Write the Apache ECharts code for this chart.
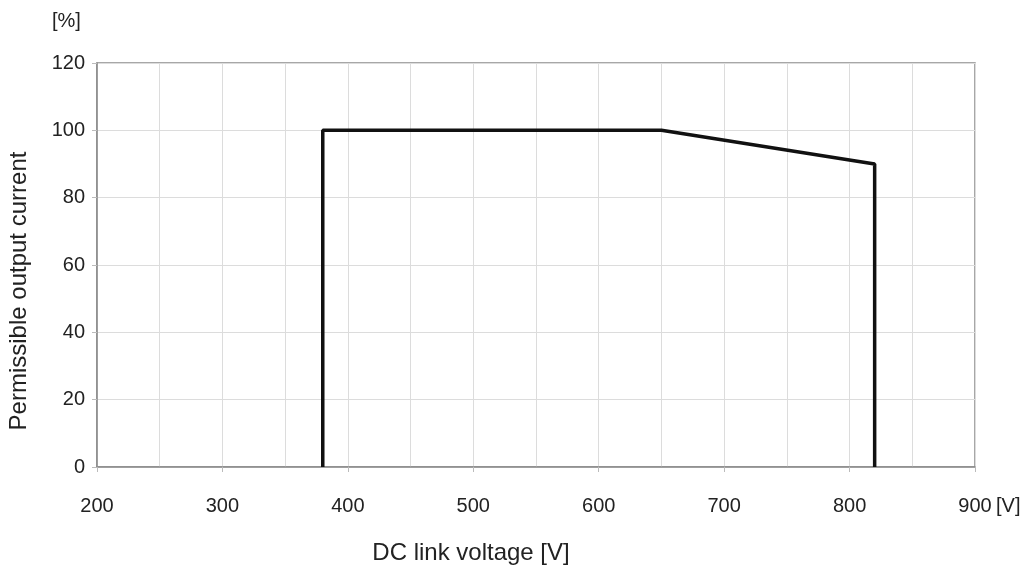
<!DOCTYPE html>
<html>
<head>
<meta charset="utf-8">
<script src="https://cdn.jsdelivr.net/npm/echarts@6/dist/echarts.min.js"></script>
<style>html,body{margin:0;padding:0;background:#fff;}#c{width:1033px;height:576px;}</style>
</head>
<body>
<div id="c"></div>
<script>
var voltage = [380, 380, 650, 820, 820];
var current = [0, 100, 100, 90, 0];
var xTitle = 'DC link voltage [V]';
var yTitle = 'Permissible output current';
var xUnit = '[V]';
var yUnit = '[%]';

var chart = echarts.init(document.getElementById('c'));
var font = 'Liberation Sans, Arial, sans-serif';
chart.setOption({
  animation: false,
  backgroundColor: '#fff',
  grid: {left: 97, right: 58, top: 63, bottom: 109, show: true, borderColor: '#8a8a8a', borderWidth: 1.5},
  xAxis: {
    type: 'value', min: 200, max: 900, interval: 100,
    axisLine: {show: true, lineStyle: {color: '#8a8a8a', width: 1.5}},
    axisTick: {show: true, length: 5, lineStyle: {color: '#bbb'}},
    axisLabel: {color: '#222', fontSize: 20, fontFamily: font, margin: 29},
    splitLine: {show: true, lineStyle: {color: '#dcdcdc', width: 1}},
    minorTick: {show: false, splitNumber: 2},
    minorSplitLine: {show: true, lineStyle: {color: '#dcdcdc', width: 1}}
  },
  yAxis: {
    type: 'value', min: 0, max: 120, interval: 20,
    axisLine: {show: true, lineStyle: {color: '#8a8a8a', width: 1.5}},
    axisTick: {show: true, length: 5, lineStyle: {color: '#bbb'}},
    axisLabel: {color: '#222', fontSize: 20, fontFamily: font, margin: 12},
    splitLine: {show: true, lineStyle: {color: '#dcdcdc', width: 1}}
  },
  graphic: [
    {type: 'text', left: 52, top: 11, style: {text: yUnit, fontSize: 20, fontFamily: font, fill: '#222'}},
    {type: 'text', left: 996, top: 496, style: {text: xUnit, fontSize: 20, fontFamily: font, fill: '#222'}},
    {type: 'text', x: 471, y: 553, style: {text: xTitle, fontSize: 24, fontFamily: font, fill: '#222', align: 'center', verticalAlign: 'middle'}},
    {type: 'text', x: 19, y: 291, rotation: Math.PI / 2, style: {text: yTitle, fontSize: 24, fontFamily: font, fill: '#222', align: 'center', verticalAlign: 'middle'}}
  ],
  series: [{
    type: 'line',
    data: voltage.map(function (v, i) { return [v, current[i]]; }),
    showSymbol: false,
    lineStyle: {color: '#111', width: 3.5},
    z: 5
  }]
});
</script>
</body>
</html>
